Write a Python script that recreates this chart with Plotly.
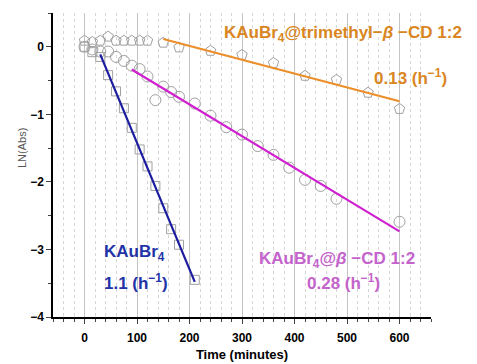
import numpy as np
import plotly.graph_objects as go

# KAuBr4 (squares)
t_sq = [0, 15, 30, 45, 60, 75, 90, 105, 120, 135, 150, 165, 180, 210]
v_sq = [0.0, -0.08, -0.15, -0.42, -0.66, -0.91, -1.2, -1.52, -1.77, -2.06, -2.39, -2.7, -2.93, -3.45]

# KAuBr4@beta-CD 1:2 (circles)
t_ci = [0, 15, 30, 45, 60, 75, 90, 105, 120, 135, 150, 165, 180, 210, 240, 270, 300,
        330, 360, 390, 420, 450, 480, 600]
v_ci = [0.0, -0.04, -0.07, -0.07, -0.15, -0.21, -0.28, -0.33, -0.44, -0.79, -0.59, -0.67,
        -0.74, -0.84, -1.02, -1.19, -1.30, -1.47, -1.60, -1.79, -1.97, -2.06, -2.25, -2.59]

# KAuBr4@trimethyl-beta-CD 1:2 (pentagons)
t_pe = [0, 15, 30, 45, 60, 75, 90, 105, 120, 150, 180, 240, 300, 360, 420, 480, 540, 600]
v_pe = [0.09, 0.07, 0.09, 0.15, 0.09, 0.09, 0.09, 0.09, 0.09, 0.06, -0.01, -0.06, -0.12,
        -0.24, -0.43, -0.49, -0.68, -0.92]

# fit ranges (minutes)
fit_sq = (30, 210)
fit_ci = (90, 600)
fit_pe = (150, 600)

x_ticks = [0, 100, 200, 300, 400, 500, 600]
y_ticks = [0, -1, -2, -3, -4]


def fit(t, v, rng):
    t = np.array(t, float)
    v = np.array(v, float)
    m = (t >= rng[0]) & (t <= rng[1])
    k, b = np.polyfit(t[m], v[m], 1)
    xs = np.array(rng, float)
    return xs, k * xs + b


fig = go.Figure()
mk_line = dict(color="#a0a0a0", width=1)
fig.add_trace(go.Scatter(x=t_pe, y=v_pe, mode="markers",
                         marker=dict(symbol="pentagon-open", size=11, line=mk_line, color="#a0a0a0")))
fig.add_trace(go.Scatter(x=t_ci, y=v_ci, mode="markers",
                         marker=dict(symbol="circle-open", size=11, line=mk_line, color="#a0a0a0")))
fig.add_trace(go.Scatter(x=t_sq, y=v_sq, mode="markers",
                         marker=dict(symbol="square-open", size=9, line=mk_line, color="#a0a0a0")))

for (t, v, rng, col) in [(t_sq, v_sq, fit_sq, "#1c1ca0"),
                         (t_ci, v_ci, fit_ci, "#d020d0"),
                         (t_pe, v_pe, fit_pe, "#ec8e2a")]:
    xs, ys = fit(t, v, rng)
    fig.add_trace(go.Scatter(x=xs, y=ys, mode="lines", line=dict(color=col, width=2.2)))

font_b = "Liberation Sans, Arial, sans-serif"
ann = [
    dict(x=0.447, y=0.932, text="KAuBr<sub>4</sub>@trimethyl−<i>β</i> −CD 1:2", color="#d98622"),
    dict(x=0.844, y=0.79, text="0.13 (h<sup>−1</sup>)", color="#d98622"),
    dict(x=0.13, y=0.21, text="KAuBr<sub>4</sub>", color="#2233a8"),
    dict(x=0.13, y=0.115, text="1.1 (h<sup>−1</sup>)", color="#2233a8"),
    dict(x=0.54, y=0.188, text="KAuBr<sub>4</sub>@<i>β</i> −CD 1:2", color="#c463cc"),
    dict(x=0.667, y=0.115, text="0.28 (h<sup>−1</sup>)", color="#c463cc"),
]
for a in ann:
    fig.add_annotation(x=a["x"], y=a["y"], xref="paper", yref="paper", text=a["text"],
                       showarrow=False, xanchor="left", yanchor="middle",
                       font=dict(family=font_b, size=17, color=a["color"], weight="bold"))

# y-axis title as annotation (sits above the axis centre in the reference)
fig.add_annotation(x=-0.08, y=0.555, xref="paper", yref="paper", text="LN(Abs)",
                   showarrow=False, textangle=-90, xanchor="center", yanchor="middle",
                   font=dict(family=font_b, size=11, color="#555555"))

fig.update_layout(
    width=477, height=364, showlegend=False,
    margin=dict(l=53, r=46, t=13, b=47, autoexpand=False),
    paper_bgcolor="white", plot_bgcolor="white",
    font=dict(family=font_b, size=12, color="black"),
    xaxis=dict(range=[-60, 660], tickvals=x_ticks, ticks="outside", ticklen=5, tickwidth=1,
               showline=True, linecolor="black", linewidth=1.5, automargin=False,
               showgrid=True, gridcolor="#c4c4c4", gridwidth=1, zeroline=False,
               ticklabelstandoff=4,
               tickfont=dict(family=font_b, size=12, color="black", weight="bold"),
               title=dict(text="Time (minutes)", standoff=6,
                          font=dict(family=font_b, size=13, color="black", weight="bold")),
               minor=dict(dtick=20, tick0=0, ticks="outside", ticklen=3, showgrid=True,
                          gridcolor="#d6d6d6", griddash="dot", gridwidth=1)),
    yaxis=dict(range=[-4, 0.5], tickvals=y_ticks, ticks="outside", ticklen=5, tickwidth=1,
               showline=True, linecolor="black", linewidth=1.5, automargin=False,
               showgrid=False, zeroline=False,
               tickfont=dict(family=font_b, size=12, color="black", weight="bold"),
               minor=dict(tickvals=[0.5, -0.5, -1.5, -2.5, -3.5], ticks="outside", ticklen=3)),
)

fig.write_html("out.html")
